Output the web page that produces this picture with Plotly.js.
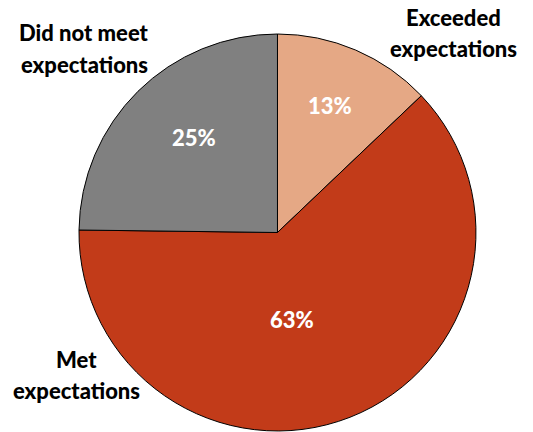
<!DOCTYPE html>
<html>
<head>
<meta charset="utf-8">
<script src="https://cdn.plot.ly/plotly-3.0.1.min.js"></script>
<style>html,body{margin:0;padding:0;background:#fff;}#chart{width:533px;height:432px;}</style>
</head>
<body>
<div id="chart"></div>
<script>
const categories = ["Exceeded<br>expectations", "Met<br>expectations", "Did not meet<br>expectations"];
const values = [12.9, 62.3, 24.8];
const pctLabels = ["13%", "63%", "25%"];
const colors = ["#E5A885", "#C23B19", "#808080"];

const FONT = "Lato, 'DejaVu Sans', sans-serif";
const W = 533, H = 432;

const trace = {
  type: "pie",
  labels: categories,
  values: values,
  textinfo: "none",
  sort: false,
  direction: "clockwise",
  rotation: 0,
  marker: {colors: colors, line: {color: "#000", width: 1}},
  hoverinfo: "none",
  domain: {x: [0.1482, 0.8930], y: [0.0023, 0.9213]}
};

// layout positions (pixels) of the outside category labels (centre x, first line y)
const catPos = [[453, 17], [76, 359], [84, 33]];
const lineGap = 31;
// layout positions (pixels) of the percentage labels inside the slices
const pctPos = [[330, 106], [292, 319], [194, 137]];

const annotations = [];
categories.forEach((c, i) => {
  c.split("<br>").forEach((line, j) => {
    annotations.push({
      text: line,
      x: catPos[i][0] / W, y: 1 - (catPos[i][1] + j * lineGap) / H,
      xref: "paper", yref: "paper",
      xanchor: "center", yanchor: "middle",
      showarrow: false,
      font: {color: "#000", size: 22, family: FONT, weight: 900}
    });
  });
});
pctLabels.forEach((p, i) => {
  annotations.push({
    text: p,
    x: pctPos[i][0] / W, y: 1 - pctPos[i][1] / H,
    xref: "paper", yref: "paper",
    xanchor: "center", yanchor: "middle",
    showarrow: false,
    font: {color: "#fff", size: 22, family: FONT, weight: 900}
  });
});

const layout = {
  width: W, height: H,
  margin: {l: 0, r: 0, t: 0, b: 0},
  showlegend: false,
  paper_bgcolor: "#fff",
  annotations: annotations
};

Plotly.newPlot("chart", [trace], layout, {displayModeBar: false, staticPlot: true});
</script>
</body>
</html>
